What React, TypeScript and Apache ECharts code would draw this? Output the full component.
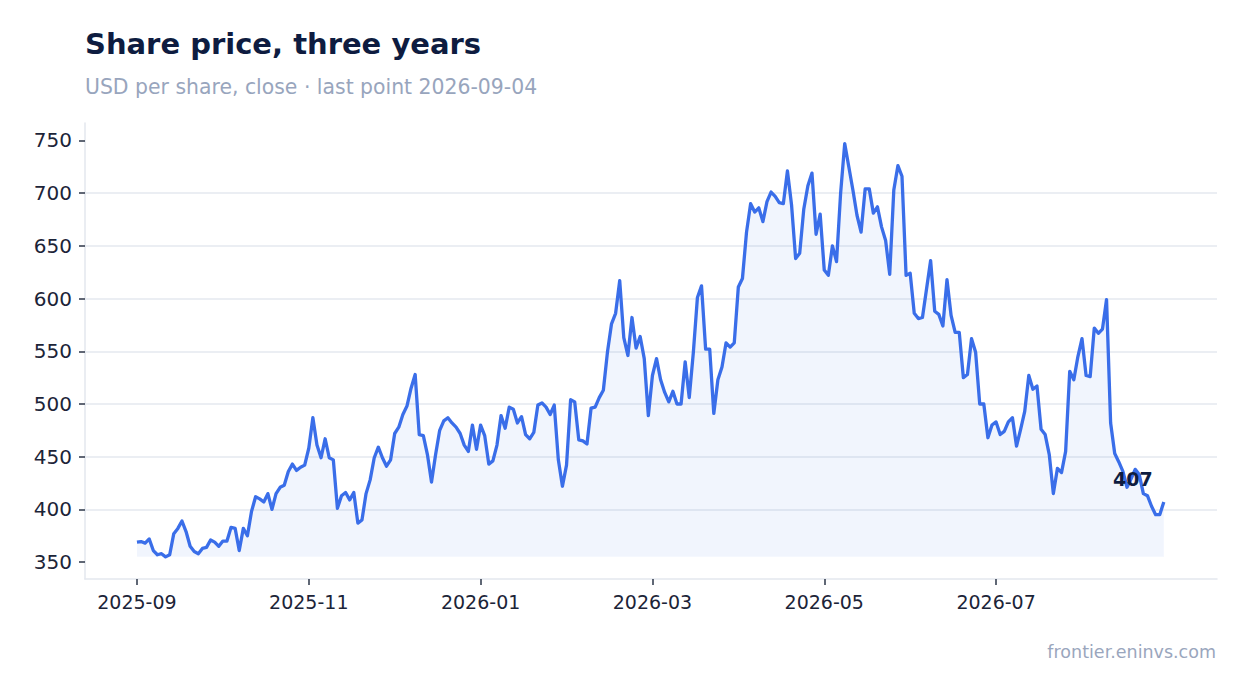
import React, { useEffect, useRef } from "react";
import * as echarts from "echarts";

const titleText = "Share price, three years";
const subtitleText = "USD per share, close · last point 2026-09-04";
const sourceText = "frontier.eninvs.com";

// closing prices, one per trading session (252 points)
const prices: number[] = [
  369, 369.5, 368, 372, 361, 357, 358, 355, 357, 377,
  382, 389, 379, 365, 360, 358, 363, 364, 371, 369,
  365, 370, 370, 383, 382, 361, 382, 375, 398, 412,
  410, 407, 415, 400, 415, 421, 423, 436, 443, 437,
  440, 442, 458, 487, 461, 449, 467, 449, 447, 401,
  413, 416, 409, 416, 387, 390, 415, 428, 449, 459,
  449, 441, 447, 472, 478, 490, 498, 515, 528, 471,
  470, 452, 426, 452, 475, 484, 487, 482, 478, 472,
  461, 455, 480, 457, 480, 470, 443, 446, 461, 489,
  477, 497, 495, 482, 488, 471, 467, 473, 499, 501,
  497, 490, 499, 447, 422, 442, 504, 502, 466, 465,
  462, 496, 497, 506, 513, 549, 576, 586, 617, 563,
  546, 582, 553, 564, 543, 489, 527, 543, 523, 511,
  502, 512, 500, 500, 540, 506, 549, 601, 612, 552,
  552, 491, 523, 535, 558, 554, 558, 611, 619, 663,
  690, 682, 686, 673, 692, 701, 697, 691, 690, 721,
  689, 638, 643, 685, 707, 719, 661, 680, 627, 622,
  650, 635, 700, 747, 725, 703, 679, 663, 704, 704,
  681, 687, 668, 655, 623, 703, 726, 716, 622, 624,
  586, 581, 582, 609, 636, 588, 585, 574, 618, 584,
  568, 568, 525, 528, 562, 549, 500, 500, 468, 480,
  483, 471, 474, 483, 487, 460, 476, 493, 527, 514,
  517, 476, 471, 452, 415, 439, 435, 455, 531, 523,
  545, 562, 527, 526, 572, 567, 571, 599, 482, 453,
  445, 436, 421, 429, 438, 433, 415, 413, 403, 395,
  395, 407,
];

// x-axis labels: session index -> month label
const tickIndex: number[] = [0, 42, 84, 126, 168, 210];
const tickLabels: string[] = ["2025-09", "2025-11", "2026-01", "2026-03", "2026-05", "2026-07"];

// y-axis ticks
const yTicks: number[] = [350, 400, 450, 500, 550, 600, 650, 700, 750];

const FONT = "DejaVu Sans";

export default function App() {
  const ref = useRef<HTMLDivElement>(null);

  useEffect(() => {
    if (!ref.current) return;
    const chart = echarts.init(ref.current, null, { renderer: "svg" });
    const data = prices.map((v, i) => [i, v]);
    const last = prices.length - 1;
    const minVal = Math.min(...prices);

    chart.setOption({
      animation: false,
      backgroundColor: "#ffffff",
      textStyle: { fontFamily: FONT },
      title: [
        {
          text: titleText,
          left: 85,
          top: 29,
          padding: 0,
          textStyle: { fontFamily: FONT, fontSize: 29, fontWeight: "bold", color: "#0e1c40" },
        },
        {
          text: subtitleText,
          left: 85,
          top: 77,
          padding: 0,
          textStyle: { fontFamily: FONT, fontSize: 20.4, fontWeight: "normal", color: "#98a5bd" },
        },
        {
          text: sourceText,
          right: 31,
          top: 643,
          padding: 0,
          textStyle: { fontFamily: FONT, fontSize: 17.5, fontWeight: "normal", color: "#9aa6bd" },
        },
      ],
      grid: { left: 85, right: 30, top: 123, bottom: 114, containLabel: false },
      xAxis: {
        type: "value",
        min: -12.7,
        max: 264,
        axisLine: { show: true, onZero: false, lineStyle: { color: "#e3e7ee", width: 1.5 } },
        axisTick: {
          show: true,
          customValues: tickIndex,
          length: 6,
          lineStyle: { color: "#2b3447", width: 1.5 },
        },
        axisLabel: {
          customValues: tickIndex,
          formatter: (v: number) => {
            const k = tickIndex.indexOf(Math.round(v));
            return k >= 0 ? tickLabels[k] : "";
          },
          fontFamily: FONT,
          fontSize: 19,
          color: "#1c2438",
          margin: 13,
        },
        splitLine: { show: false },
      },
      yAxis: {
        type: "value",
        min: 334,
        max: 766.5,
        minInterval: 50,
        maxInterval: 50,
        axisLine: { show: true, onZero: false, lineStyle: { color: "#e3e7ee", width: 1.5 } },
        axisTick: {
          show: true,
          customValues: yTicks,
          length: 6,
          lineStyle: { color: "#2b3447", width: 1.5 },
        },
        axisLabel: {
          customValues: yTicks,
          fontFamily: FONT,
          fontSize: 20,
          color: "#1c2438",
          margin: 13,
        },
        splitLine: {
          show: true,
          showMinLine: false,
          showMaxLine: false,
          lineStyle: { color: "#e4e8ef", width: 1.5 },
        },
      },
      series: [
        {
          type: "line",
          data,
          showSymbol: false,
          symbol: "none",
          silent: true,
          lineStyle: { color: "#3a6ee9", width: 3.3, join: "round" },
          itemStyle: { color: "#3a6ee9" },
          areaStyle: { color: "rgba(58,110,233,0.1)", origin: minVal },
          markPoint: {
            symbol: "circle",
            symbolSize: 0,
            silent: true,
            itemStyle: { color: "transparent" },
            label: {
              show: true,
              position: "inside",
              offset: [-31, -23],
              formatter: String(prices[last]),
              fontFamily: FONT,
              fontSize: 19,
              fontWeight: "bold",
              color: "#0e1c40",
            },
            data: [{ coord: [last, prices[last]], value: prices[last] }],
          },
        },
      ],
    });

    return () => chart.dispose();
  }, []);

  return (
    <div
      ref={ref}
      style={{ position: "fixed", left: 0, top: 0, width: "1247px", height: "693px", background: "#ffffff" }}
    />
  );
}
